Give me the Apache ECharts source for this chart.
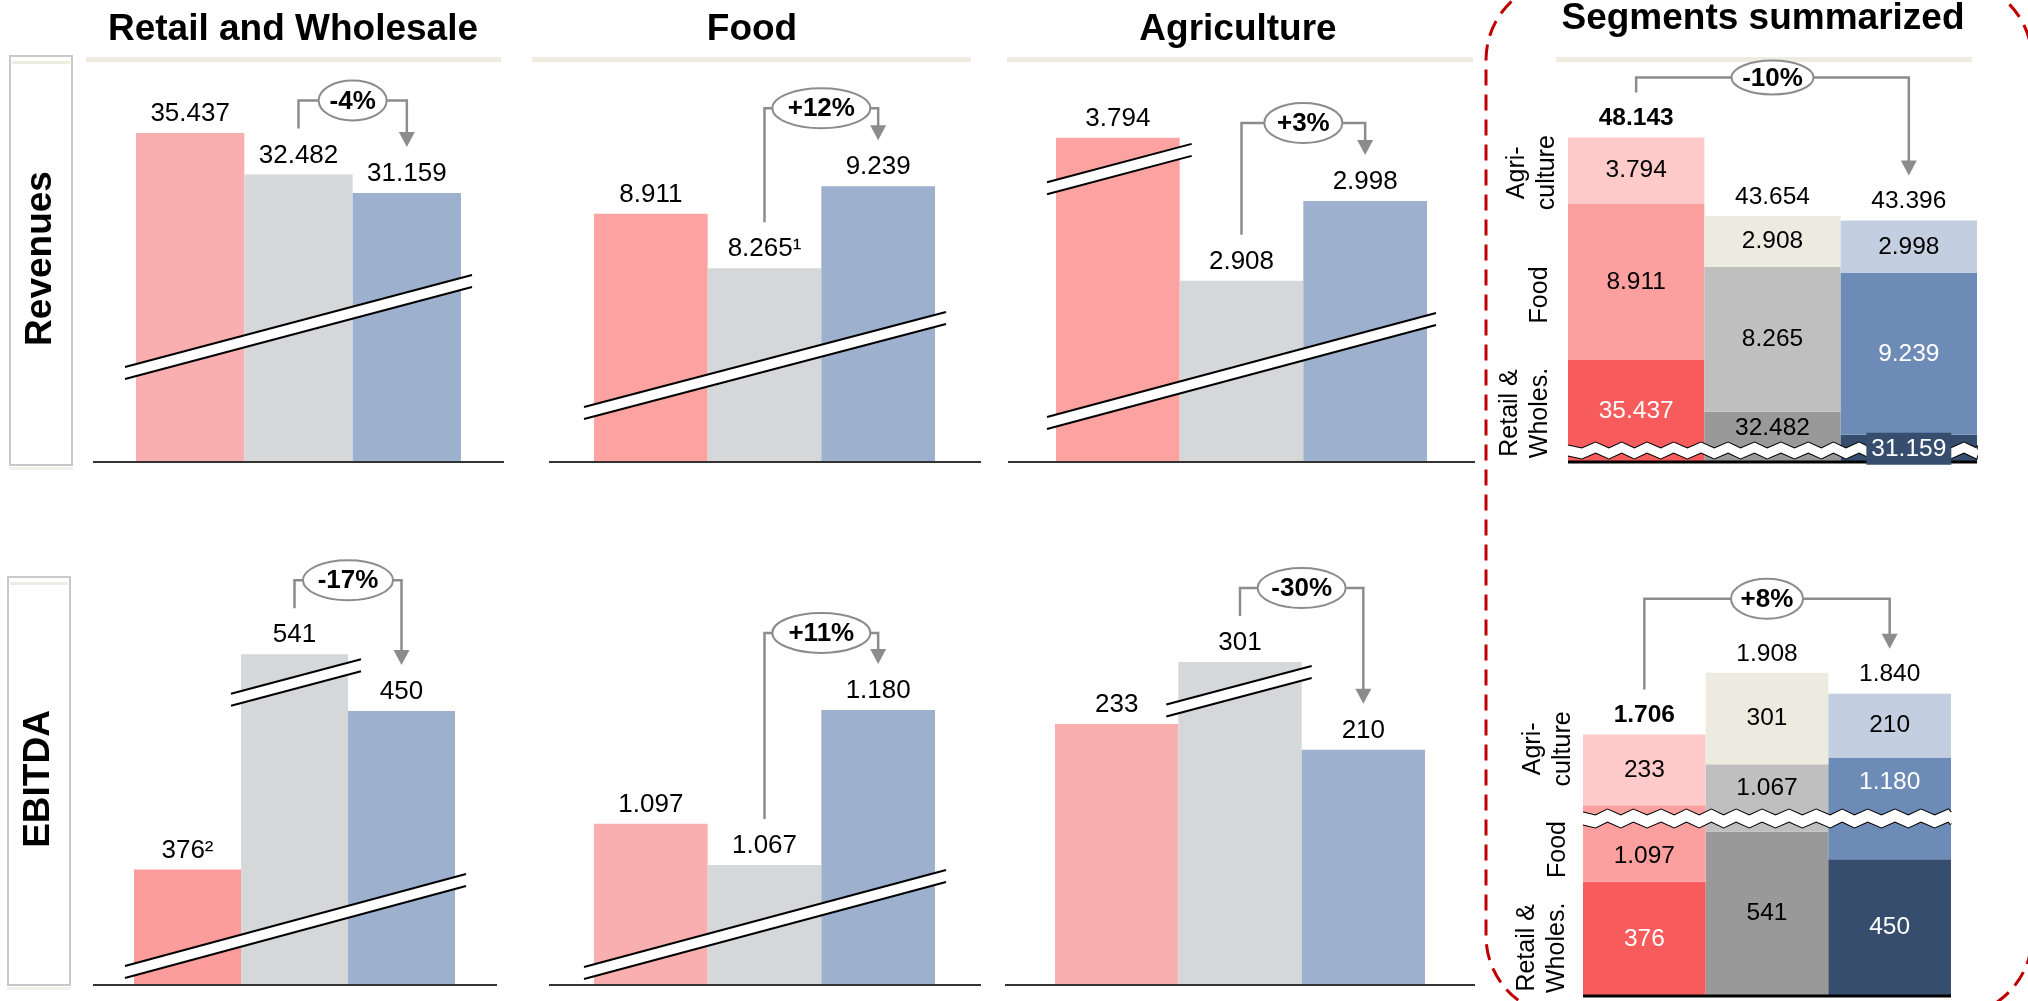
<!DOCTYPE html>
<html>
<head>
<meta charset="utf-8">
<script src="https://cdn.jsdelivr.net/npm/echarts@6/dist/echarts.min.js"></script>
<style>
  html, body { margin: 0; padding: 0; background: #ffffff; }
  #chart { width: 2028px; height: 1001px; }
</style>
</head>
<body>
<div id="chart"></div>
<script>
// ---- data -------------------------------------------------------------
const periods = ['P1', 'P2', 'P3'];

// Revenues per segment (dot = thousands separator when printed)
const revRetail = [35437, 32482, 31159];
const revFood = [8911, 8265, 9239];
const revAgri = [3794, 2908, 2998];
const revTotal = [48143, 43654, 43396];

// EBITDA per segment
const ebitdaRetail = [376, 541, 450];
const ebitdaFood = [1097, 1067, 1180];
const ebitdaAgri = [233, 301, 210];
const ebitdaTotal = [1706, 1908, 1840];

// footnote markers attached to some value labels
const revFoodNotes = ['', '\u00B9', ''];
const ebitdaRetailNotes = ['\u00B2', '', ''];

// change badges
const changeRev = ['-4%', '+12%', '+3%', '-10%'];
const changeEbitda = ['-17%', '+11%', '-30%', '+8%'];

// headings
const segmentTitles = ['Retail and Wholesale', 'Food', 'Agriculture', 'Segments summarized'];
const rowTitles = ['Revenues', 'EBITDA'];
const segmentShortNames = ['Retail &\nWholes.', 'Food', 'Agri-\nculture'];

// ---- styling ----------------------------------------------------------
const FONT = '"Liberation Sans", Arial, Helvetica, sans-serif';
const GREY_BAR = '#D6D7D9';
const BLUE_BAR = '#9DB0CE';
const BRACKET = '#8C8C8C';
const BEIGE = '#EEEBE0';

const stackColors = [
  ['#F85B5B', '#999999', '#374D6E'],   // retail & wholesale
  ['#FCA09F', '#BFBFBF', '#6D8BB7'],   // food
  ['#FECACA', '#EDEBE0', '#C3CFE0']    // agriculture
];
const stackLabelColors = [
  ['#ffffff', '#000000', '#ffffff'],
  ['#000000', '#000000', '#ffffff'],
  ['#000000', '#000000', '#000000']
];

const fmt = v => String(v).replace(/\B(?=(\d{3})+(?!\d))/g, '.');

// single-segment panels (first three = revenues, last three = EBITDA)
const panels = [
  { values: revRetail, notes: ['', '', ''], first: '#F9AFAF',
    left: 136, right: 461, top: 97, bottom: 462, min: 12000, max: 38000, breaks: [],
    axL: 93, axR: 504, lowBreak: { dl: 11, dr: 11, yl: 95, yr: 187 }, highBreak: null,
    change: changeRev[0], rise: 28, rx: 34 },
  { values: revFood, notes: revFoodNotes, first: '#FCA2A1',
    left: 594, right: 935, top: 97, bottom: 462, min: 5960, max: 10300, breaks: [],
    axL: 549, axR: 981, lowBreak: { dl: 10, dr: 11, yl: 55, yr: 150 }, highBreak: null,
    change: changeRev[1], rise: 32, rx: 49 },
  { values: revAgri, notes: ['', '', ''], first: '#FCA2A1',
    left: 1056, right: 1427, top: 97, bottom: 462, min: 2704, max: 3840,
    breaks: [{ start: 3040, end: 3770, gap: 5 }],
    axL: 1008, axR: 1475, lowBreak: { dl: 9, dr: 9, yl: 45, yr: 149 },
    highBreak: { bar: 0, dl: 9, dr: 12, dy: 6 },
    change: changeRev[2], rise: 32, rx: 39 },
  { values: ebitdaRetail, notes: ebitdaRetailNotes, first: '#FC9D9C',
    left: 134, right: 455, top: 620, bottom: 985, min: 322, max: 557,
    breaks: [{ start: 460, end: 530, gap: 5.5 }],
    axL: 93, axR: 497, lowBreak: { dl: 9, dr: 11, yl: 19, yr: 111 },
    highBreak: { bar: 1, dl: 10, dr: 13, dy: 5 },
    change: changeEbitda[0], rise: 28, rx: 45 },
  { values: ebitdaFood, notes: ['', '', ''], first: '#F9AFAF',
    left: 594, right: 935, top: 620, bottom: 985, min: 979.5, max: 1245.5, breaks: [],
    axL: 549, axR: 981, lowBreak: { dl: 10, dr: 11, yl: 18, yr: 115 }, highBreak: null,
    change: changeEbitda[1], rise: 31, rx: 49 },
  { values: ebitdaAgri, notes: ['', '', ''], first: '#F9AFAF',
    left: 1055, right: 1425, top: 620, bottom: 985, min: 0, max: 338.5,
    breaks: [{ start: 240, end: 290, gap: 37.4 }],
    axL: 1005, axR: 1475, lowBreak: null,
    highBreak: { bar: 1, dl: 12, dr: 10, dy: 4 },
    change: changeEbitda[2], rise: 28, rx: 44 }
];

// stacked summary panels
const summaries = [
  { segments: [revRetail, revFood, revAgri], totals: revTotal,
    left: 1568, right: 1977, top: 105, bottom: 462, min: 0, max: 50000,
    breaks: [{ start: 400, end: 30578, gap: 570 }],
    change: changeRev[3], rise: 15, rx: 41, ry: 17,
    labelTweaks: [[{}, { position: 'insideTop', distance: 4 }, { show: false }], [{}, {}, {}], [{}, {}, {}]],
    sideLabels: [{ dx: -43, dy: 2 }, { dx: -28, dy: 13 }, { dx: -36, dy: 2 }],
    boxed: 2 },
  { segments: [ebitdaRetail, ebitdaFood, ebitdaAgri], totals: ebitdaTotal,
    left: 1583, right: 1951, top: 645, bottom: 996, min: 0, max: 2000,
    breaks: [{ start: 565, end: 1450, gap: 39 }],
    change: changeEbitda[3], rise: 50, rx: 36, ry: 20,
    labelTweaks: [[{}, {}, {}],
                  [{ position: 'insideBottom', distance: 13 }, { position: 'insideTop', distance: 12 }, { position: 'insideTop', distance: 12 }],
                  [{}, {}, {}]],
    sideLabels: [{ dx: -41, dy: 9 }, { dx: -25, dy: 6 }, { dx: -35, dy: -21 }],
    boxed: -1 }
];

// ---- option -----------------------------------------------------------
const grid = [], xAxis = [], yAxis = [], series = [];

panels.forEach((p, i) => {
  grid.push({ left: p.left, top: p.top, width: p.right - p.left, height: p.bottom - p.top,
              containLabel: false, outerBoundsMode: 'none' });
  xAxis.push({ type: 'category', gridIndex: i, data: periods, show: false });
  yAxis.push({ type: 'value', gridIndex: i, min: p.min, max: p.max, breaks: p.breaks, show: false,
               splitLine: { show: false } });
  const colors = [p.first, GREY_BAR, BLUE_BAR];
  series.push({
    type: 'bar', xAxisIndex: i, yAxisIndex: i, barWidth: '100%', barCategoryGap: 0,
    data: p.values.map((v, j) => ({ value: v, itemStyle: { color: colors[j] } })),
    label: {
      show: true, position: 'top', distance: 6, color: '#000', fontSize: 26, fontFamily: FONT,
      formatter: prm => fmt(prm.value) + p.notes[prm.dataIndex]
    }
  });
});

summaries.forEach((s, k) => {
  const gi = panels.length + k;
  grid.push({ left: s.left, top: s.top, width: s.right - s.left, height: s.bottom - s.top,
              containLabel: false, outerBoundsMode: 'none' });
  xAxis.push({ type: 'category', gridIndex: gi, data: periods, show: false });
  yAxis.push({
    type: 'value', gridIndex: gi, min: s.min, max: s.max, breaks: s.breaks,
    axisLine: { show: false }, axisTick: { show: false }, axisLabel: { show: false },
    splitLine: { show: false },
    breakArea: {
      show: true, expandOnClick: false,
      itemStyle: { color: '#ffffff', borderColor: '#000000', borderWidth: 2, borderType: 'solid', opacity: 1 },
      zigzagAmplitude: 3, zigzagMinSpan: 12, zigzagMaxSpan: 14, zigzagZ: 100
    }
  });
  s.segments.forEach((vals, segIdx) => {
    series.push({
      type: 'bar', xAxisIndex: gi, yAxisIndex: gi, stack: 'sum' + k, barWidth: '100%', barCategoryGap: 0,
      data: vals.map((v, j) => ({
        value: v,
        itemStyle: { color: stackColors[segIdx][j] },
        label: Object.assign({ color: stackLabelColors[segIdx][j] }, s.labelTweaks[segIdx][j])
      })),
      label: { show: true, position: 'inside', fontSize: 24.5, fontFamily: FONT, formatter: prm => fmt(prm.value) }
    });
  });
  // totals on top of the stacks
  series.push({
    type: 'scatter', xAxisIndex: gi, yAxisIndex: gi, symbolSize: 1, z: 5,
    itemStyle: { color: 'rgba(0,0,0,0)', opacity: 1 },
    data: s.totals.map((v, j) => ({ value: v, label: { fontWeight: j === 0 ? 'bold' : 'normal' } })),
    label: { show: true, position: 'top', distance: 6, color: '#000', fontSize: 24.5, fontFamily: FONT,
             formatter: prm => fmt(prm.value) }
  });
  // boxed retail label sitting over the axis break
  if (s.boxed >= 0) {
    const j = s.boxed;
    series.push({
      type: 'scatter', xAxisIndex: gi, yAxisIndex: gi, symbolSize: 1, z: 200, zlevel: 1,
      itemStyle: { color: 'rgba(0,0,0,0)', opacity: 1 },
      data: [[j, s.segments[0][j]]],
      label: { show: true, position: 'inside', offset: [0, 14], color: '#fff', fontSize: 24.5, fontFamily: FONT,
               backgroundColor: stackColors[0][j], padding: [4, 5, 3, 5],
               formatter: prm => fmt(prm.value[1]) }
    });
  }
});

const chart = echarts.init(document.getElementById('chart'));
chart.setOption({ animation: false, backgroundColor: '#ffffff', grid, xAxis, yAxis, series });

// ---- annotations drawn on top of the bars -----------------------------
const px = (gi, cat, val) => chart.convertToPixel({ gridIndex: gi }, [cat, val]);
const g = [];
const text = (t, x, y, font, extra) => Object.assign({
  type: 'text', z: 80, x, y,
  style: { text: t, x: 0, y: 0, font, fill: '#000', align: 'center', verticalAlign: 'middle',
           textAlign: 'center', textVerticalAlign: 'middle' }
}, extra || {});

function breakBand(xl, yl, xr, yr) {
  const gap = 12;
  g.push({ type: 'polygon', z: 60, shape: { points: [[xl, yl], [xr, yr], [xr, yr + gap], [xl, yl + gap]] },
           style: { fill: '#ffffff' } });
  g.push({ type: 'line', z: 61, shape: { x1: xl, y1: yl, x2: xr, y2: yr }, style: { stroke: '#000', lineWidth: 2 } });
  g.push({ type: 'line', z: 61, shape: { x1: xl, y1: yl + gap, x2: xr, y2: yr + gap }, style: { stroke: '#000', lineWidth: 2 } });
}

function bracket(xL, yL, xR, yTip, rise, label, rx, ry) {
  const yH = Math.min(yL, yTip) - rise;
  const xm = (xL + xR) / 2;
  g.push({ type: 'polyline', z: 70, shape: { points: [[xL, yL], [xL, yH], [xR, yH], [xR, yTip - 13]] },
           style: { stroke: BRACKET, lineWidth: 2.5, fill: null } });
  g.push({ type: 'polygon', z: 70, shape: { points: [[xR - 8, yTip - 15], [xR + 8, yTip - 15], [xR, yTip]] },
           style: { fill: BRACKET } });
  g.push({ type: 'ellipse', z: 71, shape: { cx: xm, cy: yH, rx, ry },
           style: { fill: '#ffffff', stroke: BRACKET, lineWidth: 2 } });
  g.push(text(label, xm, yH + 1, 'bold 26px ' + FONT, { z: 72 }));
}

// column titles and their rules
[[293, 30], [752, 30], [1238, 30], [1763, 19]].forEach(([x, y], i) => {
  g.push(text(segmentTitles[i], x, y, 'bold 37px ' + FONT));
});
[[86, 501], [532, 971], [1007, 1473], [1556, 1972]].forEach(([a, b]) => {
  g.push({ type: 'rect', z: 10, shape: { x: a, y: 57, width: b - a, height: 5 }, style: { fill: BEIGE } });
});

// row headers
[{ x: 10, y: 56, h: 409 }, { x: 8, y: 577, h: 408 }].forEach((b, i) => {
  g.push({ type: 'rect', z: 10, shape: { x: b.x, y: b.y, width: 62, height: b.h },
           style: { fill: '#ffffff', stroke: '#C9C9C9', lineWidth: 2 } });
  g.push({ type: 'rect', z: 11, shape: { x: b.x + 2, y: b.y + 5, width: 58, height: 3 }, style: { fill: BEIGE } });
  g.push({ type: 'rect', z: 11, shape: { x: b.x - 1, y: b.y + b.h + 2, width: 64, height: 3 }, style: { fill: '#F3F1EA' } });
  g.push(text(rowTitles[i], b.x + 31, b.y + b.h / 2 - 2, 'bold 37px ' + FONT, { rotation: Math.PI / 2 }));
});

// single-segment panels
panels.forEach((p, i) => {
  const bw = (p.right - p.left) / 3;
  g.push({ type: 'line', z: 50, shape: { x1: p.axL, y1: p.bottom, x2: p.axR, y2: p.bottom },
           style: { stroke: '#333333', lineWidth: 2 } });
  if (p.lowBreak) {
    const b = p.lowBreak;
    breakBand(p.left - b.dl, p.bottom - b.yl, p.right + b.dr, p.bottom - b.yr);
  }
  if (p.highBreak) {
    const hb = p.highBreak;
    const [cx, ty] = px(i, hb.bar, p.values[hb.bar]);
    const xl = cx - bw / 2 - hb.dl, xr = cx + bw / 2 + hb.dr;
    const yr = ty + hb.dy;
    breakBand(xl, yr + 0.265 * (xr - xl), xr, yr);
  }
  const a = px(i, 1, p.values[1]);
  const b = px(i, 2, p.values[2]);
  bracket(a[0], a[1] - 46, b[0], b[1] - 46, p.rise, p.change, p.rx, 20);
});

// stacked summary panels
summaries.forEach((s, k) => {
  const gi = panels.length + k;
  g.push({ type: 'line', z: 150, shape: { x1: s.left, y1: s.bottom, x2: s.right, y2: s.bottom },
           style: { stroke: '#000000', lineWidth: 3 } });
  const a = px(gi, 0, s.totals[0]);
  const b = px(gi, 2, s.totals[2]);
  bracket(a[0], a[1] - 45, b[0], b[1] - 45, s.rise, s.change, s.rx, s.ry);
  // segment names beside the first stack
  let base = 0;
  s.segments.forEach((vals, segIdx) => {
    const y0 = px(gi, 0, base)[1];
    const y1 = px(gi, 0, base + vals[0])[1];
    base += vals[0];
    const sl = s.sideLabels[segIdx];
    const yMid = Math.min((y0 + y1) / 2, s.bottom - 40);
    const el = text(segmentShortNames[segIdx], s.left + sl.dx, yMid + sl.dy, '25px ' + FONT,
                    { rotation: Math.PI / 2 });
    el.style.lineHeight = 30;
    g.push(el);
  });
});

// dashed frame around the summary column
g.push({ type: 'rect', z: 5, shape: { x: 1486, y: -20, width: 546, height: 1036, r: 80 },
         style: { fill: null, stroke: '#C00000', lineWidth: 3, lineDash: [16, 9] } });

chart.setOption({ graphic: { elements: g } });
</script>
</body>
</html>
